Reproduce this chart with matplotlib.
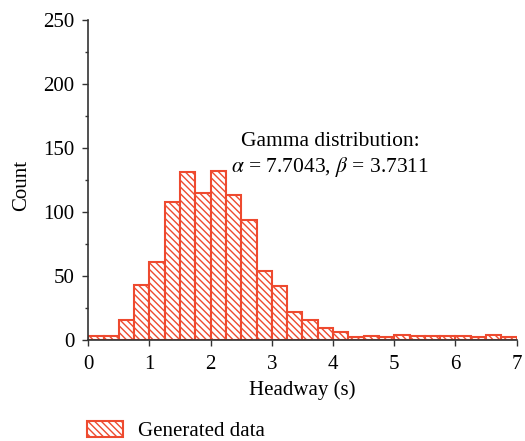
import numpy as np
import matplotlib.pyplot as plt

plt.rcParams['font.family'] = ['Liberation Serif', 'DejaVu Serif']
plt.rcParams['mathtext.fontset'] = 'stix'
plt.rcParams['hatch.linewidth'] = 1.0
plt.rcParams['hatch.color'] = '#ee4a2f'

# histogram of generated headways, bin width 0.25 s
bin_edges = np.arange(0, 7.01, 0.25)
counts = [3, 3, 16, 43, 61, 108, 131, 115, 132, 113, 94, 54, 42, 22,
          16, 9, 6, 2, 3, 2, 4, 3, 3, 3, 3, 2, 4, 2]

red = '#ee4a2f'

fig = plt.figure(figsize=(5.25, 4.41), dpi=100)
ax = fig.add_axes([0.168, 0.229, 0.816, 0.726])

ax.bar(bin_edges[:-1], counts, width=0.25, align='edge', color='white',
       edgecolor=red, linewidth=1.5, hatch='\\\\\\\\\\', label='Generated data')

ax.set_xlim(0, 7)
ax.set_ylim(0, 250)
ax.set_xticks(range(0, 8))
ax.set_yticks(range(0, 251, 50))
ax.set_yticks(range(0, 251, 25), minor=True)
ax.tick_params(direction='out', labelsize=15, length=4, width=1, color='#333333')
ax.tick_params(axis='x', pad=7)
ax.tick_params(axis='y', pad=6)
ax.tick_params(which='minor', length=2.5, width=1, color='#333333')
for s in ['top', 'right']:
    ax.spines[s].set_visible(False)
for s in ['left', 'bottom']:
    ax.spines[s].set_color('#333333')
    ax.spines[s].set_linewidth(1.2)

ax.set_xlabel('Headway (s)', fontsize=15)
ax.xaxis.set_label_coords(0.5, -0.125)
ax.set_ylabel('Count', fontsize=15)
ax.yaxis.set_label_coords(-0.133, 0.484)

ax.text(3.96, 155, 'Gamma distribution:', ha='center', va='center', fontsize=15.5)
ax.text(3.96, 135, r'$\alpha$ = 7.7043, $\beta$ = 3.7311', ha='center',
        va='center', fontsize=15.5)

fig.legend(loc='center left', bbox_to_anchor=(87 / 525, 1 - 431 / 441),
           frameon=False, fontsize=15, handlelength=1.73, handleheight=0.82,
           handletextpad=0.72, borderpad=0, borderaxespad=0)

fig.savefig('out.png', dpi=100)
